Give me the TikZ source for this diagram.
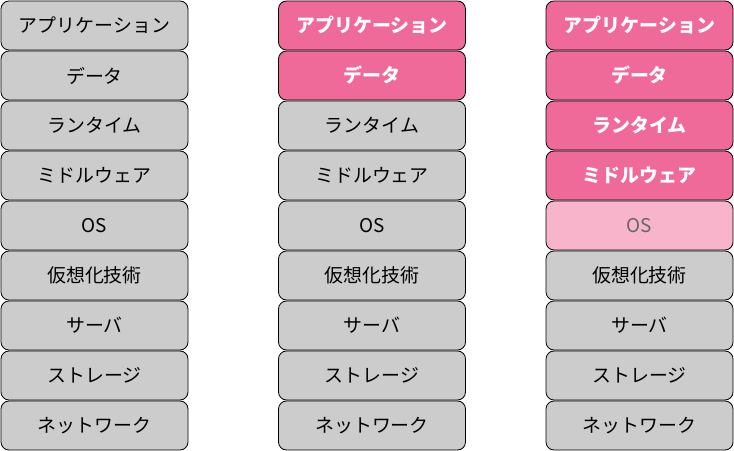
\documentclass[tikz,border=0pt]{standalone}
\usepackage{fontspec}
\setmainfont{Noto Sans CJK JP}
\usepackage{tikz}

\definecolor{layergray}{HTML}{CCCCCC}
\definecolor{managed}{HTML}{F06A99}
\definecolor{partial}{HTML}{F8B4CB}
\definecolor{partialtext}{HTML}{666666}

\begin{document}
\begin{tikzpicture}[x=1bp,y=-1bp, % y runs downward like the picture
	font=\fontsize{19}{21}\selectfont,
	every node/.style={draw=black,line width=0.8bp,rounded corners=8bp,
		minimum width=187bp,minimum height=49bp,inner sep=0pt},
	own/.style={fill=layergray,text=black}, % layer you run yourself
	cloud/.style={fill=managed,text=white,font=\fontsize{19}{21}\selectfont\bfseries}, % layer the provider runs
	shared/.style={fill=partial,text=partialtext}]
	\useasboundingbox (0,0) rectangle (734,451);

	% on-premises
	\node[own] (l1) at (94.5,25.5)  {アプリケーション};
	\node[own] (l2) at (94.5,75.5)  {データ};
	\node[own] (l3) at (94.5,125.5) {ランタイム};
	\node[own] (l4) at (94.5,175.5) {ミドルウェア};
	\node[own] (l5) at (94.5,225.5) {OS};
	\node[own] (l6) at (94.5,275.5) {仮想化技術};
	\node[own] (l7) at (94.5,325.5) {サーバ};
	\node[own] (l8) at (94.5,375.5) {ストレージ};
	\node[own] (l9) at (94.5,425.5) {ネットワーク};

	% middle stack
	\node[cloud] (m1) at (372,25.5)  {アプリケーション};
	\node[cloud] (m2) at (372,75.5)  {データ};
	\node[own]   (m3) at (372,125.5) {ランタイム};
	\node[own]   (m4) at (372,175.5) {ミドルウェア};
	\node[own]   (m5) at (372,225.5) {OS};
	\node[own]   (m6) at (372,275.5) {仮想化技術};
	\node[own]   (m7) at (372,325.5) {サーバ};
	\node[own]   (m8) at (372,375.5) {ストレージ};
	\node[own]   (m9) at (372,425.5) {ネットワーク};

	% right stack
	\node[cloud]  (r1) at (639.5,25.5)  {アプリケーション};
	\node[cloud]  (r2) at (639.5,75.5)  {データ};
	\node[cloud]  (r3) at (639.5,125.5) {ランタイム};
	\node[cloud]  (r4) at (639.5,175.5) {ミドルウェア};
	\node[shared] (r5) at (639.5,225.5) {OS};
	\node[own]    (r6) at (639.5,275.5) {仮想化技術};
	\node[own]    (r7) at (639.5,325.5) {サーバ};
	\node[own]    (r8) at (639.5,375.5) {ストレージ};
	\node[own]    (r9) at (639.5,425.5) {ネットワーク};

\end{tikzpicture}
\end{document}
